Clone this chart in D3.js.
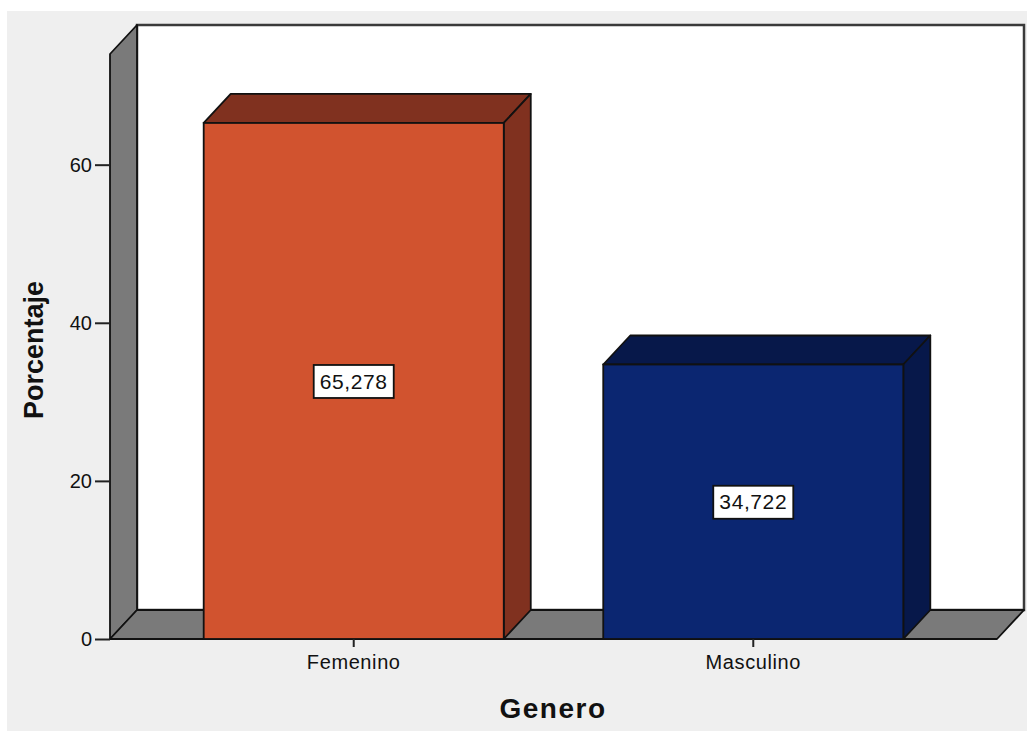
<!DOCTYPE html>
<html>
<head>
<meta charset="utf-8">
<script src="https://cdn.jsdelivr.net/npm/d3@7"></script>
<style>
    body { margin: 0; background: #ffffff; }
    text { font-family: 'Liberation Sans', Arial, sans-serif; fill: #111; }
</style>
</head>
<body>
<div class="chart_container"></div>
<script>
// data
const categories = ['Femenino', 'Masculino']
const values = [65.278, 34.722]
const yTicks = [0, 20, 40, 60]
const barColors = ['#d1532f', '#0b2671']
const barDark = ['#80311f', '#07184a']

// decimal comma for labels
const esLocale = d3.formatLocale({ decimal: ',', thousands: '.', grouping: [3], currency: ['', '€'] })
const formatValue = esLocale.format('.3f')

function setupCanvas() {
    const svg_width = 1028
    const svg_height = 731
    // 3d depth offset
    const depth = { dx: 27, dy: 29 }
    const plot = { left: 110, right: 997, top: 54, bottom: 639 }

    const svg = d3.select('.chart_container').append('svg')
        .attr('width', svg_width).attr('height', svg_height)

    // gray panel
    svg.append('rect')
        .attr('x', 7).attr('y', 11)
        .attr('width', 1020).attr('height', 720)
        .style('fill', '#efefef')

    //scale
    const xScale = d3.scaleBand().domain(categories)
        .range([plot.left, plot.right])
        .paddingInner(0.249).paddingOuter(0.2345)
    const yScale = d3.scaleLinear().domain([0, 74]).range([plot.bottom, plot.top])

    // back wall
    svg.append('rect')
        .attr('x', plot.left + depth.dx).attr('y', plot.top - depth.dy)
        .attr('width', plot.right - plot.left).attr('height', plot.bottom - plot.top)
        .style('fill', '#ffffff')
        .style('stroke', '#3a3a3a').style('stroke-width', 2.5)

    // left wall
    const leftWall = [
        [plot.left, plot.top], [plot.left + depth.dx, plot.top - depth.dy],
        [plot.left + depth.dx, plot.bottom - depth.dy], [plot.left, plot.bottom]
    ]
    svg.append('polygon')
        .attr('points', leftWall.map(p => p.join(',')).join(' '))
        .style('fill', '#7a7a7a').style('stroke', '#111').style('stroke-width', 1.8)
        .style('stroke-linejoin', 'round')

    // floor
    const floor = [
        [plot.left, plot.bottom], [plot.left + depth.dx, plot.bottom - depth.dy],
        [plot.right + depth.dx, plot.bottom - depth.dy], [plot.right, plot.bottom]
    ]
    svg.append('polygon')
        .attr('points', floor.map(p => p.join(',')).join(' '))
        .style('fill', '#7a7a7a').style('stroke', '#111').style('stroke-width', 1.8)
        .style('stroke-linejoin', 'round')

    // bars
    const barData = categories.map((c, i) => ({ cat: c, value: values[i], color: barColors[i], dark: barDark[i] }))
    const bars = svg.selectAll('.bar').data(barData).enter()
        .append('g').attr('class', 'bar')

    // top face
    bars.append('polygon')
        .attr('points', d => {
            const x0 = xScale(d.cat), x1 = x0 + xScale.bandwidth(), y0 = yScale(d.value)
            return [[x0, y0], [x0 + depth.dx, y0 - depth.dy], [x1 + depth.dx, y0 - depth.dy], [x1, y0]]
                .map(p => p.join(',')).join(' ')
        })
        .style('fill', d => d.dark).style('stroke', '#111').style('stroke-width', 1.8)
        .style('stroke-linejoin', 'round')

    // side face
    bars.append('polygon')
        .attr('points', d => {
            const x1 = xScale(d.cat) + xScale.bandwidth(), y0 = yScale(d.value), yb = yScale(0)
            return [[x1, y0], [x1 + depth.dx, y0 - depth.dy], [x1 + depth.dx, yb - depth.dy], [x1, yb]]
                .map(p => p.join(',')).join(' ')
        })
        .style('fill', d => d.dark).style('stroke', '#111').style('stroke-width', 1.8)
        .style('stroke-linejoin', 'round')

    // front face
    bars.append('rect')
        .attr('x', d => xScale(d.cat))
        .attr('y', d => yScale(d.value))
        .attr('width', xScale.bandwidth())
        .attr('height', d => yScale(0) - yScale(d.value))
        .style('fill', d => d.color).style('stroke', '#111').style('stroke-width', 1.8)

    // value labels
    const labels = bars.append('g')
        .attr('transform', d => `translate(${xScale(d.cat) + xScale.bandwidth() / 2},${yScale(d.value / 2)})`)
    labels.append('rect')
    labels.append('text')
        .text(d => formatValue(d.value))
        .attr('text-anchor', 'middle')
        .attr('dy', '0.36em')
        .style('font-size', '21px')
        .style('letter-spacing', '0.6px')
    labels.each(function () {
        const g = d3.select(this)
        const box = g.select('text').node().getBBox()
        g.select('rect')
            .attr('x', -40).attr('y', -16)
            .attr('width', 80).attr('height', 33)
            .style('fill', '#ffffff').style('stroke', '#111').style('stroke-width', 1.8)
    })

    // y axis
    const yAxis = d3.axisLeft(yScale).tickValues(yTicks).tickSizeInner(15).tickSizeOuter(0).tickPadding(3)
    const yAxisDraw = svg.append('g').attr('class', 'y axis')
        .attr('transform', `translate(${plot.left},0)`)
        .call(yAxis)
    yAxisDraw.select('.domain').remove()
    yAxisDraw.selectAll('line').style('stroke', '#222').style('stroke-width', 2)
    yAxisDraw.selectAll('text').style('font-size', '20px').style('fill', '#111')

    // x axis
    const xAxis = d3.axisBottom(xScale).tickSizeInner(8).tickSizeOuter(0).tickPadding(8)
    const xAxisDraw = svg.append('g').attr('class', 'x axis')
        .attr('transform', `translate(0,${plot.bottom})`)
        .call(xAxis)
    xAxisDraw.select('.domain').remove()
    xAxisDraw.selectAll('line').style('stroke', '#222').style('stroke-width', 2)
    xAxisDraw.selectAll('text').style('font-size', '20px').style('fill', '#111')
        .style('letter-spacing', '0.6px')

    // axis titles
    svg.append('text')
        .attr('x', 553).attr('y', 718)
        .attr('text-anchor', 'middle')
        .style('font-size', '28px').style('font-weight', 'bold')
        .style('letter-spacing', '1.5px')
        .text('Genero')

    svg.append('text')
        .attr('transform', 'translate(43,350) rotate(-90)')
        .attr('text-anchor', 'middle')
        .style('font-size', '27px').style('font-weight', 'bold')
        .text('Porcentaje')
}

setupCanvas()
</script>
</body>
</html>
